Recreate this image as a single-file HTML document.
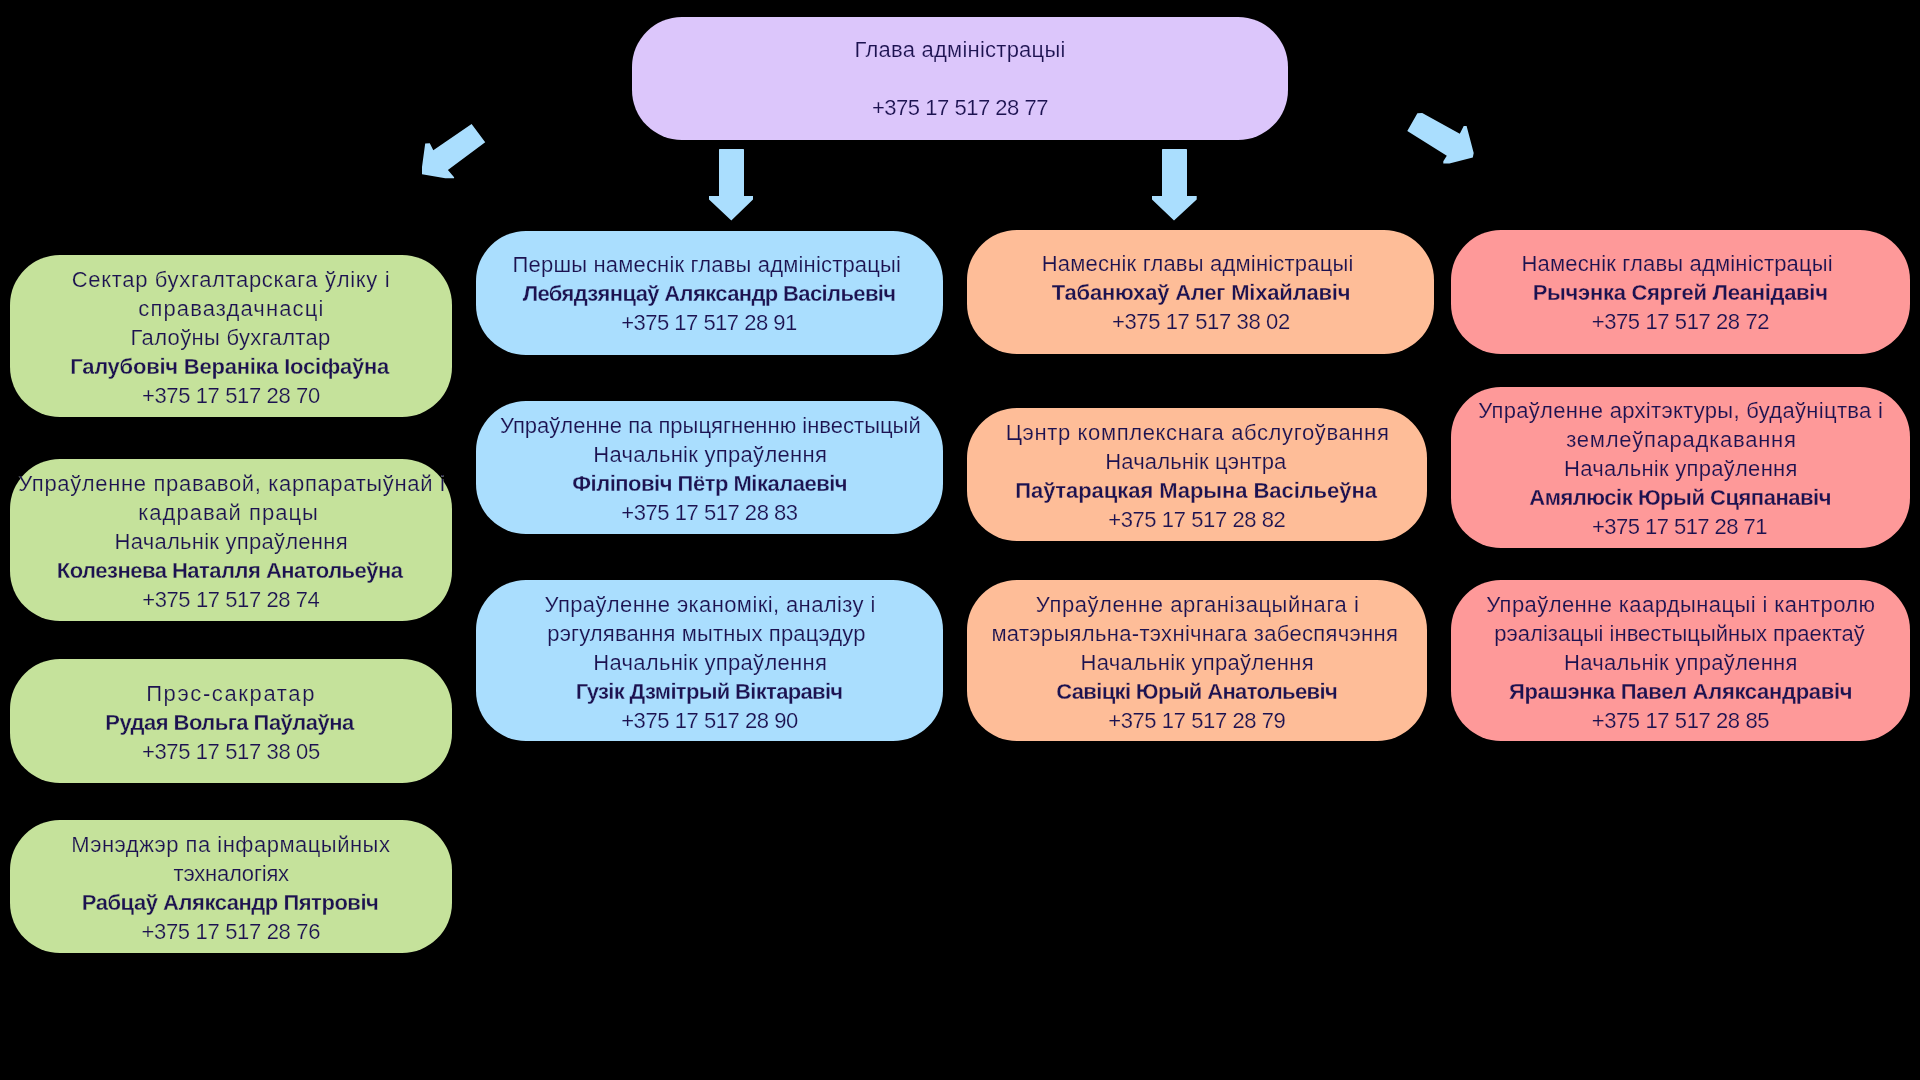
<!DOCTYPE html>
<html lang="be">
<head>
<meta charset="utf-8">
<title>Структура адміністрацыі</title>
<style>
html,body{margin:0;padding:0;}
body{width:1920px;height:1080px;background:#000;overflow:hidden;position:relative;font-family:"Liberation Sans",sans-serif;font-size:22px;color:#1C1250;}
.b{position:absolute;border-radius:50px;will-change:transform;}
.b p{position:absolute;margin:0;padding:0;white-space:nowrap;line-height:29px;height:29px;font-weight:400;-webkit-text-stroke:0.2px var(--c);}
.b p.n{font-weight:700;-webkit-text-stroke-width:0.3px;}
svg{position:absolute;left:0;top:0;}

</style>
</head>
<body>
<div class="b" style="left:632px;top:17px;width:656px;height:123px;--c:#DCC6FB;background:#DCC6FB">
<p style="left:222.52px;top:18px;letter-spacing:0.242px">Глава адміністрацыі</p>
<p style="left:239.88px;top:76px;letter-spacing:-0.468px">+375 17 517 28 77</p>
</div>
<div class="b" style="left:10px;top:255px;width:442px;height:162px;--c:#C5E29B;background:#C5E29B">
<p style="left:61.8px;top:10px;letter-spacing:0.661px">Сектар бухгалтарскага ўліку і</p>
<p style="left:128.28px;top:39px;letter-spacing:1.121px">справаздачнасці</p>
<p style="left:120.56px;top:68px;letter-spacing:0.339px">Галоўны бухгалтар</p>
<p class="n" style="left:60.22px;top:97px;letter-spacing:-0.233px">Галубовіч Вераніка Іосіфаўна</p>
<p style="left:131.92px;top:126px;letter-spacing:-0.365px">+375 17 517 28 70</p>
</div>
<div class="b" style="left:10px;top:459px;width:442px;height:162px;--c:#C5E29B;background:#C5E29B">
<p style="left:8.22px;top:10px;letter-spacing:0.656px">Упраўленне прававой, карпаратыўнай і</p>
<p style="left:128.19px;top:39px;letter-spacing:1.009px">кадравай працы</p>
<p style="left:104.5px;top:68px;letter-spacing:0.263px">Начальнік упраўлення</p>
<p class="n" style="left:46.8px;top:97px;letter-spacing:-0.511px">Колезнева Наталля Анатольеўна</p>
<p style="left:132.28px;top:126px;letter-spacing:-0.41px">+375 17 517 28 74</p>
</div>
<div class="b" style="left:10px;top:659px;width:442px;height:124px;--c:#C5E29B;background:#C5E29B">
<p style="left:136.16px;top:20px;letter-spacing:1.623px">Прэс-сакратар</p>
<p class="n" style="left:95.28px;top:49px;letter-spacing:-0.535px">Рудая Вольга Паўлаўна</p>
<p style="left:131.92px;top:78px;letter-spacing:-0.365px">+375 17 517 38 05</p>
</div>
<div class="b" style="left:10px;top:820px;width:442px;height:133px;--c:#C5E29B;background:#C5E29B">
<p style="left:61.16px;top:10px;letter-spacing:0.503px">Мэнэджэр па інфармацыйных</p>
<p style="left:163.52px;top:39px;letter-spacing:-0.199px">тэхналогіях</p>
<p class="n" style="left:71.8px;top:68px;letter-spacing:-0.467px">Рабцаў Аляксандр Пятровіч</p>
<p style="left:131.46px;top:97px;letter-spacing:-0.32px">+375 17 517 28 76</p>
</div>
<div class="b" style="left:476px;top:231px;width:467px;height:124px;--c:#AADEFE;background:#AADEFE">
<p style="left:36.62px;top:19px;letter-spacing:0.173px">Першы намеснік главы адміністрацыі</p>
<p class="n" style="left:46.68px;top:48px;letter-spacing:-0.625px">Лебядзянцаў Аляксандр Васільевіч</p>
<p style="left:145.25px;top:77px;letter-spacing:-0.513px">+375 17 517 28 91</p>
</div>
<div class="b" style="left:476px;top:401px;width:467px;height:133px;--c:#AADEFE;background:#AADEFE">
<p style="left:23.94px;top:10px;letter-spacing:0.009px">Упраўленне па прыцягненню інвестыцый</p>
<p style="left:117.31px;top:39px;letter-spacing:0.288px">Начальнік упраўлення</p>
<p class="n" style="left:96.28px;top:68px;letter-spacing:-0.492px">Філіповіч Пётр Мікалаевіч</p>
<p style="left:145.31px;top:97px;letter-spacing:-0.458px">+375 17 517 28 83</p>
</div>
<div class="b" style="left:476px;top:580px;width:467px;height:161px;--c:#AADEFE;background:#AADEFE">
<p style="left:68.52px;top:10px;letter-spacing:0.394px">Упраўленне эканомікі, аналізу і</p>
<p style="left:71.28px;top:39px;letter-spacing:0.144px">рэгулявання мытных працэдур</p>
<p style="left:117.31px;top:68px;letter-spacing:0.288px">Начальнік упраўлення</p>
<p class="n" style="left:99.85px;top:97px;letter-spacing:-0.675px">Гузік Дзмітрый Віктаравіч</p>
<p style="left:145.22px;top:126px;letter-spacing:-0.443px">+375 17 517 28 90</p>
</div>
<div class="b" style="left:967px;top:230px;width:467px;height:124px;--c:#FEBD98;background:#FEBD98">
<p style="left:74.7px;top:19px;letter-spacing:0.193px">Намеснік главы адміністрацыі</p>
<p class="n" style="left:84.79px;top:48px;letter-spacing:-0.195px">Табанюхаў Алег Міхайлавіч</p>
<p style="left:144.92px;top:77px;letter-spacing:-0.365px">+375 17 517 38 02</p>
</div>
<div class="b" style="left:967px;top:408px;width:460px;height:133px;--c:#FEBD98;background:#FEBD98">
<p style="left:38.7px;top:10px;letter-spacing:0.632px">Цэнтр комплекснага абслугоўвання</p>
<p style="left:138.28px;top:39px;letter-spacing:0.139px">Начальнік цэнтра</p>
<p class="n" style="left:48.25px;top:68px;letter-spacing:-0.061px">Паўтарацкая Марына Васільеўна</p>
<p style="left:141.22px;top:97px;letter-spacing:-0.406px">+375 17 517 28 82</p>
</div>
<div class="b" style="left:967px;top:580px;width:460px;height:161px;--c:#FEBD98;background:#FEBD98">
<p style="left:68.85px;top:10px;letter-spacing:0.574px">Упраўленне арганізацыйнага і</p>
<p style="left:24.4px;top:39px;letter-spacing:0.321px">матэрыяльна-тэхнічнага забеспячэння</p>
<p style="left:113.62px;top:68px;letter-spacing:0.258px">Начальнік упраўлення</p>
<p class="n" style="left:89.22px;top:97px;letter-spacing:-0.645px">Савіцкі Юрый Анатольевіч</p>
<p style="left:141.22px;top:126px;letter-spacing:-0.406px">+375 17 517 28 79</p>
</div>
<div class="b" style="left:1451px;top:230px;width:459px;height:124px;--c:#FE9999;background:#FE9999">
<p style="left:70.52px;top:19px;letter-spacing:0.173px">Намеснік главы адміністрацыі</p>
<p class="n" style="left:81.7px;top:48px;letter-spacing:-0.288px">Рычэнка Сяргей Леанідавіч</p>
<p style="left:140.7px;top:77px;letter-spacing:-0.394px">+375 17 517 28 72</p>
</div>
<div class="b" style="left:1451px;top:387px;width:459px;height:161px;--c:#FE9999;background:#FE9999">
<p style="left:27.17px;top:9px;letter-spacing:0.31px">Упраўленне архітэктуры, будаўніцтва і</p>
<p style="left:115.22px;top:38px;letter-spacing:0.748px">землеўпарадкавання</p>
<p style="left:113.12px;top:67px;letter-spacing:0.274px">Начальнік упраўлення</p>
<p class="n" style="left:78.28px;top:96px;letter-spacing:-0.479px">Амялюсік Юрый Сцяпанавіч</p>
<p style="left:141px;top:125px;letter-spacing:-0.538px">+375 17 517 28 71</p>
</div>
<div class="b" style="left:1451px;top:580px;width:459px;height:161px;--c:#FE9999;background:#FE9999">
<p style="left:35.22px;top:10px;letter-spacing:0.411px">Упраўленне каардынацыі і кантролю</p>
<p style="left:43.34px;top:39px;letter-spacing:0.01px">рэалізацыі інвестыцыйных праектаў</p>
<p style="left:113.12px;top:68px;letter-spacing:0.274px">Начальнік упраўлення</p>
<p class="n" style="left:57.89px;top:97px;letter-spacing:-0.299px">Ярашэнка Павел Аляксандравіч</p>
<p style="left:140.7px;top:126px;letter-spacing:-0.394px">+375 17 517 28 85</p>
</div>
<svg width="1920" height="1080" viewBox="0 0 1920 1080">
<polygon points="471.6,124.1 485.2,142.2 447.9,170.1 454.1,177.2 454.1,178.3 445.3,178.3 422,174.3 422,166.9 425.2,143.5 429.8,143.2 433.3,150.3" fill="#AADEFE"/>
<polygon points="719.6,149 743.4,149 744,149.6 744,196 753,196 753,199.5 731.3,220.5 709,199.5 709,196 719,196 719,149.6" fill="#AADEFE"/>
<polygon points="1162.6,149 1186.4,149 1187,149.6 1187,196 1196.7,196 1196.7,199.5 1174,220.5 1152,199.5 1152,196 1162,196 1162,149.6" fill="#AADEFE"/>
<polygon points="1422.2,113 1459.8,133.7 1463.7,126.05 1466.6,126.05 1473.7,153.1 1472.8,157.4 1449.4,163.6 1443.3,163.6 1443.3,161.2 1446.8,155.7 1407.3,131.1 1417.4,113.2" fill="#AADEFE"/>
</svg>
</body>
</html>
